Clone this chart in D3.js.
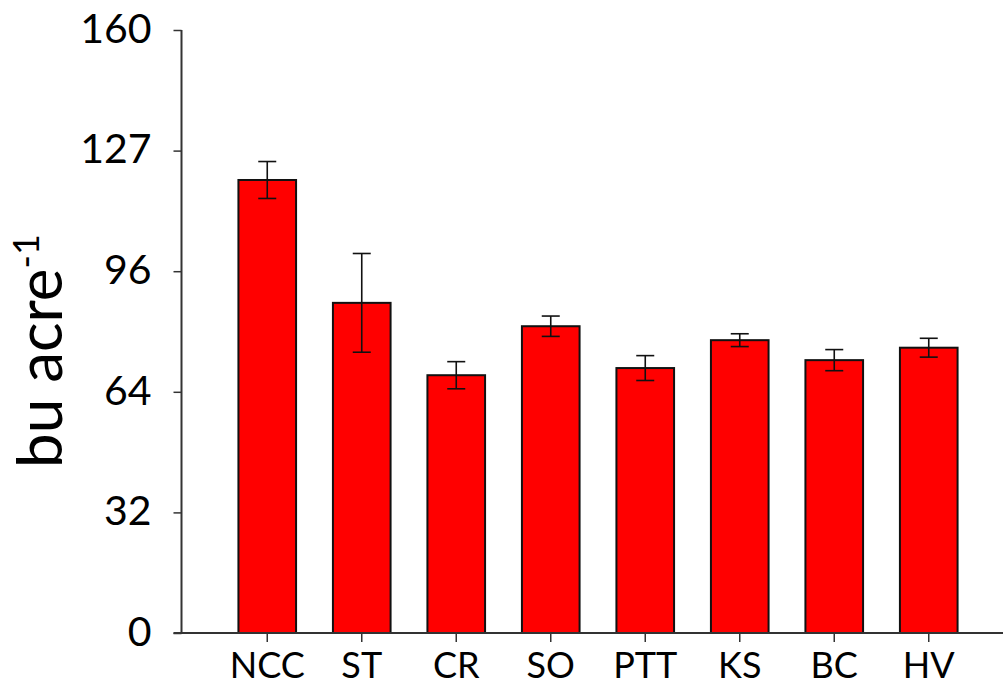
<!DOCTYPE html>
<html>
<head>
<meta charset="utf-8">
<script src="https://cdn.jsdelivr.net/npm/d3@7"></script>
<style>
  html, body { margin: 0; padding: 0; background: #fff; }
  svg { display: block; }
  text { font-family: Lato, "Open Sans", sans-serif; fill: #000; }
</style>
</head>
<body>
<svg id="chart" width="1003" height="687"></svg>
<script>
// Yield by treatment (bu/acre), mean with error
const categories = ["NCC", "ST", "CR", "SO", "PTT", "KS", "BC", "HV"];
const yields     = [120.2, 87.6, 68.4, 81.4, 70.3, 77.7, 72.4, 75.7];
const errors     = [4.9, 13.1, 3.6, 2.7, 3.3, 1.7, 2.8, 2.5];
const yTicks      = [0, 32, 64, 96, 128, 160];
const yTickLabels = ["0", "32", "64", "96", "127", "160"];

const svg = d3.select("#chart");

const plotTop = 30, plotBottom = 633, axisX = 181.5;

const y = d3.scaleLinear().domain([0, 160]).range([plotBottom, plotTop]);
const x = d3.scaleBand()
  .domain(categories)
  .range([220, 976])
  .paddingInner(0.39)
  .paddingOuter(0.195);

// bars
svg.append("g")
  .selectAll("rect")
  .data(categories)
  .join("rect")
  .attr("x", d => x(d))
  .attr("y", (d, i) => y(yields[i]))
  .attr("width", x.bandwidth())
  .attr("height", (d, i) => y(0) - y(yields[i]))
  .attr("fill", "#ff0000")
  .attr("stroke", "#111")
  .attr("stroke-width", 2);

// error bars
const eb = svg.append("g").attr("stroke", "#111").attr("stroke-width", 1.6);
categories.forEach((c, i) => {
  const cx = x(c) + x.bandwidth() / 2;
  const hi = y(yields[i] + errors[i]), lo = y(yields[i] - errors[i]);
  eb.append("line").attr("x1", cx).attr("x2", cx).attr("y1", hi).attr("y2", lo);
  eb.append("line").attr("x1", cx - 9).attr("x2", cx + 9).attr("y1", hi).attr("y2", hi);
  eb.append("line").attr("x1", cx - 9).attr("x2", cx + 9).attr("y1", lo).attr("y2", lo);
});

// y axis
const yAxis = svg.append("g")
  .attr("transform", `translate(${axisX},0)`)
  .call(d3.axisLeft(y)
    .tickValues(yTicks)
    .tickFormat((d, i) => yTickLabels[i])
    .tickSize(8)
    .tickPadding(22));
yAxis.select(".domain").attr("stroke", "#333").attr("stroke-width", 2).attr("d", `M0,${plotTop}V${plotBottom}`);
yAxis.selectAll(".tick line").attr("stroke", "#333").attr("stroke-width", 1.5);
yAxis.selectAll(".tick text")
  .attr("font-size", 41)
  .attr("dy", "0.3em")
  .style("font-family", "Lato, sans-serif");

// x axis
const xAxis = svg.append("g")
  .attr("transform", `translate(0,${plotBottom})`)
  .call(d3.axisBottom(x).tickSize(9).tickPadding(10));
xAxis.select(".domain").attr("stroke", "#333").attr("stroke-width", 2)
  .attr("d", `M${axisX - 8},0H1003`);
xAxis.selectAll(".tick line").attr("stroke", "#333").attr("stroke-width", 1.5);
xAxis.selectAll(".tick text")
  .attr("font-size", 36)
  .attr("dy", "0.72em")
  .style("font-family", "Lato, sans-serif");

// y axis title with superscript
const title = svg.append("text")
  .attr("transform", "translate(62,468) rotate(-90)")
  .attr("font-size", 62);
title.append("tspan").text("bu acre");
title.append("tspan").attr("font-size", 36).attr("dy", -23).text("-1");
</script>
</body>
</html>
